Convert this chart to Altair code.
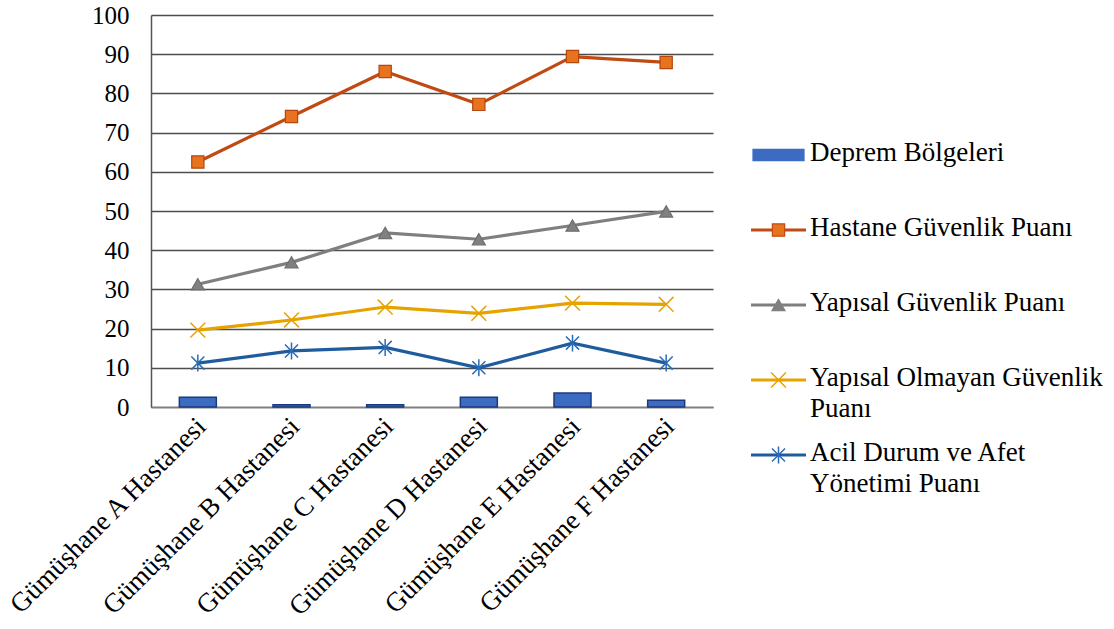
import altair as alt
import pandas as pd

# Hospital safety scores for six hospitals in Gümüşhane
hospitals = [
    "Gümüşhane A Hastanesi",
    "Gümüşhane B Hastanesi",
    "Gümüşhane C Hastanesi",
    "Gümüşhane D Hastanesi",
    "Gümüşhane E Hastanesi",
    "Gümüşhane F Hastanesi",
]
deprem = [2.5, 0.6, 0.6, 2.5, 3.6, 1.7]
hastane = [62.5, 74.1, 85.6, 77.2, 89.4, 87.9]
yapisal = [31.3, 36.9, 44.4, 42.8, 46.3, 49.9]
olmayan = [19.6, 22.2, 25.5, 23.9, 26.5, 26.2]
acil = [11.2, 14.3, 15.2, 10.0, 16.3, 11.2]

series_names = [
    "Deprem Bölgeleri",
    "Hastane Güvenlik Puanı",
    "Yapısal Güvenlik Puanı",
    "Yapısal Olmayan Güvenlik Puanı",
    "Acil Durum ve Afet Yönetimi Puanı",
]
legend_labels = [
    "Deprem Bölgeleri",
    "Hastane Güvenlik Puanı",
    "Yapısal Güvenlik Puanı",
    "Yapısal Olmayan Güvenlik\nPuanı",
    "Acil Durum ve Afet\nYönetimi Puanı",
]

FONT = "Liberation Serif"
X_SHAPE = "M-1,-1L1,1M-1,1L1,-1"
STAR_SHAPE = "M-1,-1L1,1M-1,1L1,-1M0,-1.3L0,1.3"
RECT_SHAPE = "M-1,-0.22L1,-0.22L1,0.22L-1,0.22Z"

# line series styling: (values, line colour, marker shape, marker fill, marker stroke, size, filled)
line_styles = [
    (hastane, "#C04A12", "square", "#E8731F", "#B3470F", 150, True),
    (yapisal, "#7F7F7F", "triangle-up", "#808080", "#6E6E6E", 170, True),
    (olmayan, "#E6A300", X_SHAPE, "#E6A300", "#E6A300", 220, False),
    (acil, "#1F5C9E", STAR_SHAPE, "#2A6BB5", "#2A6BB5", 170, False),
]

bar_df = pd.DataFrame({"hospital": hospitals, "value": deprem})

x_axis = alt.Axis(
    labelAngle=-45,
    labelAlign="right",
    labelBaseline="middle",
    labelFont=FONT,
    labelFontSize=27,
    labelColor="#000000",
    labelPadding=15,
    labelOffset=4,
    labelLimit=400,
    ticks=False,
    domainColor="#808080",
    domainWidth=1.5,
    grid=False,
)
x_scale = alt.Scale(paddingInner=0, paddingOuter=0)
y_scale = alt.Scale(domain=[0, 100], nice=False)
y_axis = alt.Axis(
    values=list(range(0, 101, 10)),
    title=None,
    labelFont=FONT,
    labelFontSize=25,
    labelColor="#000000",
    labelPadding=22,
    labelOverlap=False,
    ticks=False,
    domainColor="#555555",
    domainWidth=1.5,
    gridColor="#4D4D4D",
    gridWidth=1.5,
)


def xy(df_chart):
    return df_chart.encode(
        x=alt.X("hospital:N", sort=hospitals, title=None, scale=x_scale, axis=x_axis),
        y=alt.Y("value:Q", scale=y_scale, axis=y_axis),
    )


bars = xy(alt.Chart(bar_df)).mark_bar(
    size=37, color="#3C6CC2", stroke="#1B3A80", strokeWidth=1.5
)

layers = [bars]
for name, (vals, lcol, shape, fill, stroke, size, filled) in zip(series_names[1:], line_styles):
    df = pd.DataFrame({"hospital": hospitals, "value": vals, "series": name})
    base = xy(alt.Chart(df))
    layers.append(base.mark_line(color=lcol, strokeWidth=3.2))
    if filled:
        layers.append(
            base.mark_point(
                shape=shape, size=size, filled=True, fill=fill,
                stroke=stroke, strokeWidth=1.2, opacity=1,
            )
        )
    else:
        layers.append(
            base.mark_point(
                shape=shape, size=size, filled=False, stroke=stroke,
                strokeWidth=1.5, opacity=1,
            )
        )

main = alt.layer(*layers).properties(width=562, height=392)

# Legend drawn as its own small panel
legend_df = pd.DataFrame({
    "item": series_names,
    "label": legend_labels,
    "color": ["#3C6CC2", "#C04A12", "#7F7F7F", "#E6A300", "#1F5C9E"],
    "mfill": ["#3C6CC2", "#E8731F", "#808080", "#E6A300", "#2A6BB5"],
    "shape": [RECT_SHAPE, "square", "triangle-up", X_SHAPE, STAR_SHAPE],
    "msize": [2601, 150, 170, 220, 170],
    "filled": [True, True, True, False, False],
    "line": [False, True, True, True, True],
})
ly = alt.Y(
    "item:N",
    sort=series_names,
    axis=None,
    scale=alt.Scale(type="point", range=[140, 440], padding=0),
)
lbase = alt.Chart(legend_df)
leg_lines = lbase.transform_filter("datum.line").mark_rule(strokeWidth=3.2).encode(
    x=alt.value(0), x2=alt.value(55), y=ly, color=alt.Color("color:N", scale=None)
)
leg_filled = lbase.transform_filter("datum.filled").mark_point(
    filled=True, opacity=1, strokeWidth=1.2
).encode(
    x=alt.value(27.5),
    y=ly,
    shape=alt.Shape("shape:N", scale=None),
    size=alt.Size("msize:Q", scale=None),
    fill=alt.Fill("mfill:N", scale=None),
    stroke=alt.Stroke("color:N", scale=None),
)
leg_open = lbase.transform_filter("!datum.filled").mark_point(
    filled=False, opacity=1, strokeWidth=1.5
).encode(
    x=alt.value(27.5),
    y=ly,
    shape=alt.Shape("shape:N", scale=None),
    size=alt.Size("msize:Q", scale=None),
    stroke=alt.Stroke("mfill:N", scale=None),
)
leg_text = lbase.mark_text(
    align="left",
    baseline="top",
    dy=-15,
    font=FONT,
    fontSize=27,
    lineBreak="\n",
    lineHeight=31,
    color="#000000",
).encode(x=alt.value(59), y=ly, text="label:N")

legend = alt.layer(leg_lines, leg_filled, leg_open, leg_text).properties(width=300, height=392)

chart = alt.hconcat(main, legend, spacing=36).properties(
    padding={"left": 2, "top": 3, "right": 0, "bottom": 0},
    background="#FFFFFF",
).configure_view(
    stroke=None
).configure_text(
    font=FONT
).configure_axis(
    labelFont=FONT
)

chart.save("out.html", embed_options={"renderer": "svg", "actions": False})
